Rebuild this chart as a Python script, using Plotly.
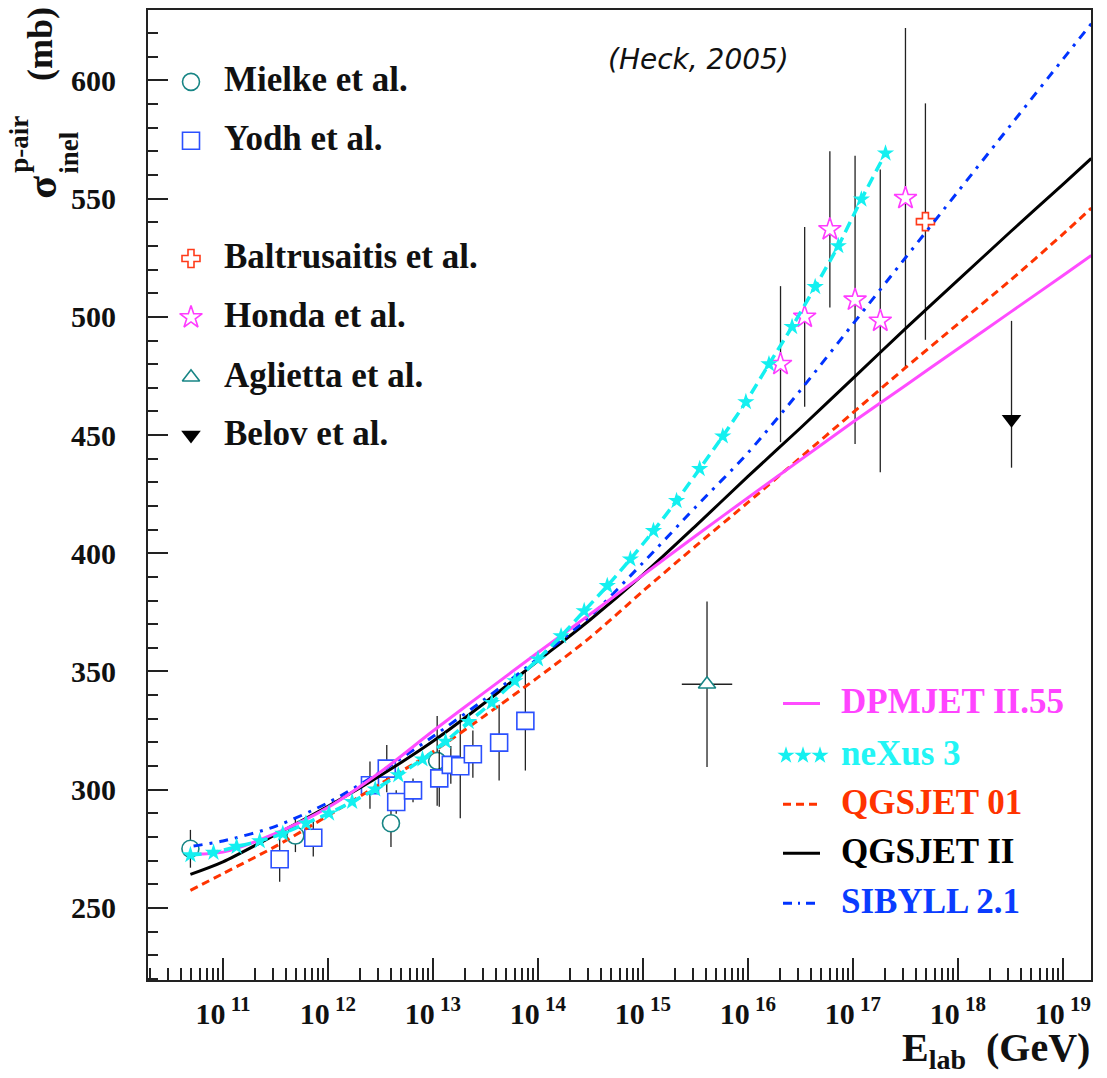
import numpy as np
import plotly.graph_objects as go

# ---------------- data (log10 of E_lab in GeV, sigma in mb) ----------------
mielke_lgE = [10.69, 11.69, 12.60, 13.04]
mielke_sig = [275.0, 280.6, 285.8, 312.2]
mielke_err = [8.0, 7.0, 10.0, 19.0]

yodh_lgE = [11.54, 11.86, 12.40, 12.56, 12.65, 12.81, 13.06, 13.17, 13.26, 13.38, 13.63, 13.88]
yodh_sig = [270.6, 279.7, 301.9, 308.9, 294.8, 299.7, 304.8, 310.5, 309.9, 315.0, 319.9, 329.1]
yodh_err = [9.5, 8.0, 10.0, 10.0, 5.0, 5.0, 12.0, 8.0, 22.0, 10.0, 16.0, 21.0]

baltru_lgE = [17.69]
baltru_sig = [540.3]
baltru_err = [50.0]

honda_lgE = [16.31, 16.54, 16.78, 17.02, 17.26, 17.50]
honda_sig = [480.0, 500.0, 537.0, 507.2, 498.3, 550.2]
honda_err = [33.0, 38.0, 33.0, 61.0, 64.0, 72.0]

aglietta_lgE = [15.61]
aglietta_sig = [344.6]
aglietta_err = [35.0]
aglietta_lgE_err = [0.24]

belov_lgE = [18.51]
belov_sig = [456.7]
belov_err_up = [41.6]
belov_err_down = [20.5]

dpmjet_lgE = [10.72, 11.0, 11.5, 12.0, 12.5, 13.0, 13.5, 14.0, 14.5, 15.0, 15.5, 16.0,
              16.5, 17.0, 17.5, 18.0, 18.5, 19.0, 19.27]
dpmjet_sig = [272.7, 273.6, 281.5, 292.5, 307.5, 324.8, 341.5, 358.0, 374.3, 390.8, 407.3,
              423.5, 439.5, 455.5, 471.0, 486.5, 502.0, 517.5, 526.0]

nexus_lgE = [10.69, 10.91, 11.13, 11.35, 11.57, 11.79, 12.01, 12.23, 12.45, 12.67, 12.90,
             13.12, 13.34, 13.56, 13.78, 14.00, 14.22, 14.44, 14.66, 14.88, 15.10, 15.32,
             15.54, 15.76, 15.98, 16.20, 16.42, 16.64, 16.86, 17.08, 17.31]
nexus_sig = [272.4, 273.4, 275.9, 278.3, 281.4, 285.8, 290.0, 294.9, 300.2, 306.2, 312.9,
             320.4, 328.7, 336.8, 346.0, 355.2, 365.0, 375.6, 386.2, 397.5, 409.5, 422.2,
             435.7, 449.5, 464.0, 480.0, 495.8, 512.7, 530.0, 549.7, 569.2]

qgsjet01_lgE = [10.69, 11.0, 11.5, 12.0, 12.5, 13.0, 13.5, 14.0, 14.5, 15.0, 15.5, 16.0,
                16.5, 17.0, 17.5, 18.0, 18.5, 19.0, 19.27]
qgsjet01_sig = [257.4, 264.5, 276.0, 289.0, 302.5, 316.0, 331.5, 347.5, 364.5, 384.0, 403.0,
                421.5, 440.5, 459.5, 478.5, 497.0, 515.5, 535.0, 546.0]

qgsjet2_lgE = [10.69, 11.0, 11.5, 12.0, 12.5, 13.0, 13.5, 14.0, 14.5, 15.0, 15.5, 16.0,
               16.5, 17.0, 17.5, 18.0, 18.5, 19.0, 19.27]
qgsjet2_sig = [264.2, 269.5, 281.0, 293.0, 306.0, 320.5, 337.0, 354.5, 372.0, 391.0, 411.5,
               432.5, 453.0, 474.0, 495.0, 515.5, 536.0, 556.0, 567.0]

sibyll_lgE = [10.72, 11.0, 11.5, 12.0, 12.5, 13.0, 13.5, 14.0, 14.5, 15.0, 15.5, 16.0,
              16.5, 17.0, 17.5, 18.0, 18.5, 19.0, 19.27]
sibyll_sig = [276.2, 278.3, 284.5, 294.5, 307.5, 322.5, 338.5, 355.5, 373.5, 396.0, 419.5,
              442.5, 469.0, 497.0, 525.0, 553.0, 581.0, 609.0, 624.0]

x_major_exp = [11, 12, 13, 14, 15, 16, 17, 18, 19]
x_tick_labels = ["10<sup> %d</sup>" % e for e in x_major_exp]

# ---------------- styling ----------------
W, H = 1107, 1078
L, R, T, B = 148, 1091, 8, 980
SERIF = "Liberation Serif"
AXC = "#222222"
TEAL = "#178585"
YBLUE = "#2b50ff"
BRED = "#ff3b1a"
HMAG = "#ff3cff"
CYAN = "#14f0f0"
DMAG = "#ff4cff"
QRED = "#ff3300"
SBLUE = "#0033ff"


def E(lg):
    return [10.0 ** v for v in lg]


def px2x(px):
    return (px - L) / (R - L)


def py2y(py):
    return (B - py) / (B - T)


def ebar(arr, minus=None):
    d = dict(type="data", array=arr, color=AXC, thickness=1.3, width=0, visible=True)
    if minus is not None:
        d["symmetric"] = False
        d["arrayminus"] = minus
    return d


fig = go.Figure()


def data_trace(lg, sig, err, symbol, color, size, minus=None, errx=None):
    return go.Scatter(
        x=E(lg), y=sig, mode="markers", showlegend=False,
        marker=dict(symbol=symbol, size=size, color="rgba(255,255,255,1)",
                    line=dict(color=color, width=1.6)),
        error_y=ebar(err, minus), error_x=errx)


fig.add_trace(data_trace(mielke_lgE, mielke_sig, mielke_err, "circle", TEAL, 17))
fig.add_trace(data_trace(yodh_lgE, yodh_sig, yodh_err, "square", YBLUE, 17))
fig.add_trace(data_trace(baltru_lgE, baltru_sig, baltru_err, "cross", BRED, 15))
fig.add_trace(data_trace(honda_lgE, honda_sig, honda_err, "star", HMAG, 17))
ag_E = E(aglietta_lgE)
ag_xp = [e * (10 ** d - 1) for e, d in zip(ag_E, aglietta_lgE_err)]
ag_xm = [e * (1 - 10 ** (-d)) for e, d in zip(ag_E, aglietta_lgE_err)]
fig.add_trace(data_trace(aglietta_lgE, aglietta_sig, aglietta_err, "triangle-up", TEAL, 15,
                         errx=dict(type="data", symmetric=False, array=ag_xp, arrayminus=ag_xm,
                                   color=AXC, thickness=1.3, width=0)))
fig.add_trace(go.Scatter(
    x=E(belov_lgE), y=belov_sig, mode="markers", showlegend=False,
    marker=dict(symbol="triangle-down", size=17, color="#000000"),
    error_y=ebar(belov_err_up, belov_err_down)))

# model curves
fig.add_trace(go.Scatter(x=E(qgsjet2_lgE), y=qgsjet2_sig, mode="lines", showlegend=False,
                         line=dict(color="#000000", width=3, shape="spline", smoothing=0.8)))
fig.add_trace(go.Scatter(x=E(qgsjet01_lgE), y=qgsjet01_sig, mode="lines", showlegend=False,
                         line=dict(color=QRED, width=3, dash="8px,5px", shape="spline", smoothing=0.8)))
fig.add_trace(go.Scatter(x=E(sibyll_lgE), y=sibyll_sig, mode="lines", showlegend=False,
                         line=dict(color=SBLUE, width=3, dash="9px,7px,3px,7px", shape="spline", smoothing=0.8)))
fig.add_trace(go.Scatter(x=E(dpmjet_lgE), y=dpmjet_sig, mode="lines", showlegend=False,
                         line=dict(color=DMAG, width=3, shape="spline", smoothing=0.8)))
fig.add_trace(go.Scatter(x=E(nexus_lgE), y=nexus_sig, mode="lines+markers", showlegend=False,
                         line=dict(color=CYAN, width=3.5, dash="11px,6px", shape="spline", smoothing=0.6),
                         marker=dict(symbol="star", size=13, color=CYAN, line=dict(width=0))))

# ---------------- custom legends (overlay axes in plot-fraction units) ----------------
leg1 = [
    ("Mielke et al.", 80, "circle", TEAL, 17, "white"),
    ("Yodh et al.", 139, "square", YBLUE, 17, "white"),
    ("Baltrusaitis et al.", 257, "cross", BRED, 15, "white"),
    ("Honda et al.", 316, "star", HMAG, 17, "white"),
    ("Aglietta et al.", 376, "triangle-up", TEAL, 15, "white"),
    ("Belov et al.", 434, "triangle-down", "#000000", 17, "#000000"),
]
annotations = []
for name, py, sym, col, size, fill in leg1:
    fig.add_trace(go.Scatter(x=[px2x(191)], y=[py2y(py)], xaxis="x2", yaxis="y2",
                             mode="markers", showlegend=False,
                             marker=dict(symbol=sym, size=size, color=fill,
                                         line=dict(color=col, width=1.6 if fill == "white" else 0))))
    annotations.append(dict(x=px2x(222), y=py2y(py - 2), xref="paper", yref="paper",
                            text=name, showarrow=False, xanchor="left", yanchor="middle",
                            font=dict(family=SERIF, size=35, color="#111111", weight="bold")))

leg2 = [
    ("DPMJET II.55", 703, DMAG, "solid", "#ff44ff"),
    ("neXus 3", 755, CYAN, None, "#22f5f5"),
    ("QGSJET 01", 804, QRED, "8px,5px", "#ff3300"),
    ("QGSJET II", 853, "#000000", "solid", "#000000"),
    ("SIBYLL 2.1", 903, SBLUE, "9px,6px,2px,6px", "#0a3cff"),
]
shapes = []
for name, py, col, dash, tcol in leg2:
    if dash is None:
        fig.add_trace(go.Scatter(x=[px2x(786), px2x(803), px2x(820)], y=[py2y(py)] * 3,
                                 xaxis="x2", yaxis="y2", mode="markers", showlegend=False,
                                 marker=dict(symbol="star", size=13, color=col, line=dict(width=0))))
    else:
        shapes.append(dict(type="line", xref="paper", yref="paper",
                           x0=px2x(783), x1=px2x(820), y0=py2y(py), y1=py2y(py),
                           line=dict(color=col, width=3, dash=dash)))
    annotations.append(dict(x=px2x(839), y=py2y(py - 2), xref="paper", yref="paper",
                            text=name, showarrow=False, xanchor="left", yanchor="middle",
                            font=dict(family=SERIF, size=35, color=tcol, weight="bold")))

# citation
annotations.append(dict(x=px2x(698), y=py2y(58), xref="paper", yref="paper",
                        text="<i>(Heck, 2005)</i>", showarrow=False,
                        xanchor="center", yanchor="middle",
                        font=dict(family="DejaVu Sans", size=28, color="#111111")))


# y-axis title pieces (rotated)
def ytitle(text, px, py, size):
    return dict(x=px2x(px), y=py2y(py), xref="paper", yref="paper", text=text,
                showarrow=False, textangle=-90, xanchor="center", yanchor="middle",
                font=dict(family=SERIF, size=size, color="#111111", weight="bold"))


annotations.append(ytitle("σ", 42, 186, 42))
annotations.append(ytitle("p-air", 19, 143, 27))
annotations.append(ytitle("inel", 69, 151, 27))
annotations.append(ytitle("(mb)", 40, 42, 36))

# x-axis title
annotations.append(dict(x=px2x(1092), y=py2y(1050), xref="paper", yref="paper",
                        text="E<sub>lab</sub>  (GeV)", showarrow=False,
                        xanchor="right", yanchor="middle",
                        font=dict(family=SERIF, size=40, color="#111111", weight="bold")))

minor_x = []
for e in range(10, 20):
    for m in range(2, 10):
        minor_x.append(m * 10.0 ** e)

fig.update_layout(
    width=W, height=H,
    margin=dict(l=L, r=W - R, t=T, b=H - B, pad=0),
    paper_bgcolor="white", plot_bgcolor="white",
    showlegend=False,
    xaxis=dict(type="log", range=[10.286, 19.267], showgrid=False, zeroline=False,
               showline=True, linecolor=AXC, linewidth=2, mirror=True,
               ticks="inside", ticklen=22, tickwidth=2, tickcolor=AXC,
               tickvals=E(x_major_exp), ticktext=x_tick_labels,
               tickfont=dict(family=SERIF, size=30, color="#111111", weight="bold"),
               ticklabelstandoff=6,
               minor=dict(tickvals=minor_x, ticks="inside", ticklen=12, tickwidth=2,
                          tickcolor=AXC, showgrid=False)),
    yaxis=dict(range=[219.5, 629.8], showgrid=False, zeroline=False,
               showline=True, linecolor=AXC, linewidth=2, mirror=True,
               ticks="inside", ticklen=20, tickwidth=2, tickcolor=AXC,
               tick0=0, dtick=50,
               tickfont=dict(family=SERIF, size=30, color="#111111", weight="bold"),
               ticklabelstandoff=24,
               minor=dict(dtick=10, ticks="inside", ticklen=10, tickwidth=2,
                          tickcolor=AXC, showgrid=False)),
    xaxis2=dict(overlaying="x", range=[0, 1], visible=False, fixedrange=True),
    yaxis2=dict(overlaying="y", range=[0, 1], visible=False, fixedrange=True),
    annotations=annotations,
    shapes=shapes,
)

fig.write_html("out.html", config={"displayModeBar": False},
               post_script="document.body.style.margin='0px';document.body.style.padding='0px';")
